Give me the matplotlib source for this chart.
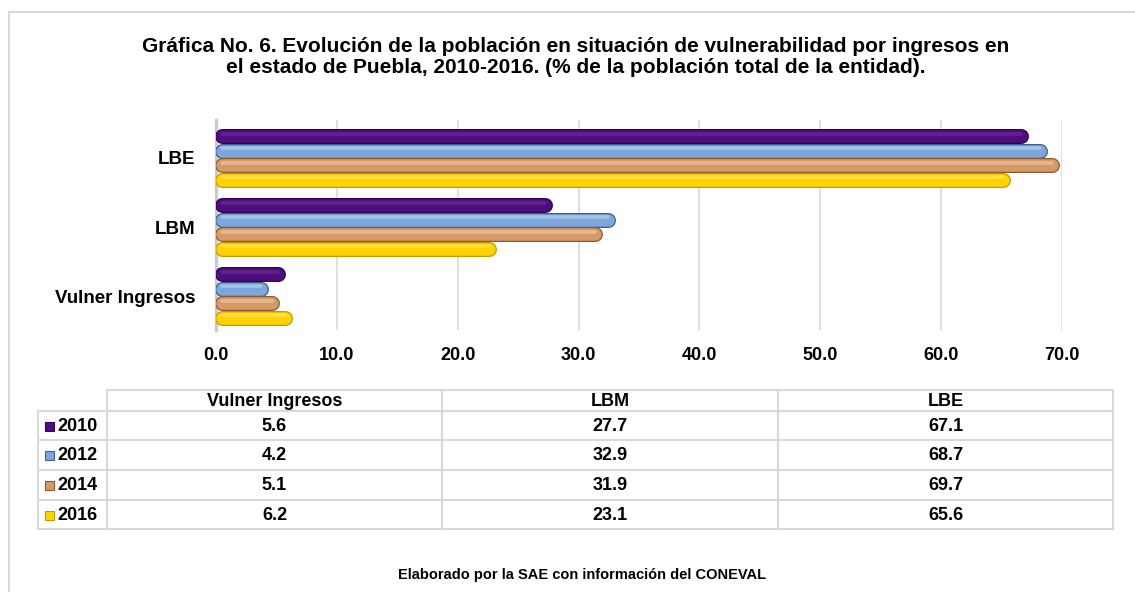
import matplotlib
matplotlib.use("Agg")
import matplotlib.pyplot as plt
import numpy as np

plt.rcParams['font.family'] = ['Liberation Sans', 'DejaVu Sans']

# data
categories = ['Vulner Ingresos', 'LBM', 'LBE']
years = ['2010', '2012', '2014', '2016']
values = {
    '2010': [5.6, 27.7, 67.1],
    '2012': [4.2, 32.9, 68.7],
    '2014': [5.1, 31.9, 69.7],
    '2016': [6.2, 23.1, 65.6],
}
x_ticks = [0, 10, 20, 30, 40, 50, 60, 70]

title = ('Gráfica No. 6. Evolución de la población en situación de vulnerabilidad por ingresos en\n'
         'el estado de Puebla, 2010-2016. (% de la población total de la entidad).')
footer = 'Elaborado por la SAE con información del CONEVAL'

# styles: (main, dark edge, highlight)
colors = {
    '2010': ('#4e0e7d', '#2c0550', '#6a2a9a'),
    '2012': ('#7ea6dc', '#3f5f8a', '#b0ccf0'),
    '2014': ('#d69a68', '#8a5a33', '#edc29a'),
    '2016': ('#ffd200', '#c49a00', '#ffe45c'),
}
offsets = [0.315, 0.105, -0.105, -0.315]
cap = 0.5  # round cap radius in data units

W, H = 1135, 592
fig = plt.figure(figsize=(W / 100, H / 100), dpi=100)

# full-figure overlay for frame, table, texts (pixel coords)
bg = fig.add_axes([0, 0, 1, 1])
bg.set_xlim(0, W)
bg.set_ylim(H, 0)
bg.axis('off')
bg.plot([9, W], [12, 12], color='#d9d9d9', lw=1.5)
bg.plot([9, 9], [12, H], color='#d9d9d9', lw=1.5)

bg.text(576, 57, title, ha='center', va='center', fontsize=15,
        fontweight='bold', linespacing=1.17)
bg.text(582, 575, footer, ha='center', va='center', fontsize=10.5, fontweight='bold')

# chart
ax = fig.add_axes([216 / W, 1 - 330 / H, 846 / W, 210 / H])
ypos = np.arange(len(categories))
for yr, off in zip(years, offsets):
    main, dark, hi = colors[yr]
    yy = ypos + off
    ends = np.array(values[yr]) - cap
    ax.hlines(yy, cap, ends, colors=dark, lw=10.8, capstyle='round', zorder=3)
    ax.hlines(yy, cap, ends, colors=main, lw=9.0, capstyle='round', zorder=4)
    ax.hlines(yy + 0.035, cap, ends, colors=hi, lw=2.6,
              capstyle='round', zorder=5, alpha=0.75)

ax.set_xlim(0, 70)
ax.set_ylim(-0.49, 2.55)
ax.set_xticks(x_ticks)
ax.set_xticklabels([f'{t:.1f}' for t in x_ticks], fontsize=13, fontweight='bold')
ax.set_yticks(ypos)
ax.set_yticklabels(categories, fontsize=13.5, fontweight='bold')
ax.tick_params(axis='x', length=0, pad=12)
ax.tick_params(axis='y', length=0, pad=15)
ax.grid(axis='x', color='#d9d9d9', lw=1.2, zorder=0)
for s in ['top', 'right', 'bottom']:
    ax.spines[s].set_visible(False)
ax.spines['left'].set_color('#cccccc')
ax.spines['left'].set_linewidth(2.5)

# data table
col_edges = [38, 107, 442, 778, 1113]
row_edges = [390, 411, 440, 470, 500, 529]
line_c = '#d9d9d9'
# header row (no top-left cell)
bg.plot([col_edges[1], col_edges[-1]], [row_edges[0]] * 2, color=line_c, lw=1.5)
for y in row_edges[1:]:
    bg.plot([col_edges[0], col_edges[-1]], [y, y], color=line_c, lw=1.5)
bg.plot([col_edges[0]] * 2, [row_edges[1], row_edges[-1]], color=line_c, lw=1.5)
for x in col_edges[1:]:
    bg.plot([x, x], [row_edges[0], row_edges[-1]], color=line_c, lw=1.5)

for j, cat in enumerate(categories):
    cx = (col_edges[j + 1] + col_edges[j + 2]) / 2
    bg.text(cx, (row_edges[0] + row_edges[1]) / 2 + 1, cat, ha='center', va='center',
            fontsize=13, fontweight='bold')
for i, yr in enumerate(years):
    cy = (row_edges[i + 1] + row_edges[i + 2]) / 2 + 1
    main, dark, hi = colors[yr]
    bg.add_patch(plt.Rectangle((45, cy - 5), 9, 9, facecolor=main, edgecolor=dark, lw=0.8))
    bg.text(57, cy, yr, ha='left', va='center', fontsize=13, fontweight='bold')
    for j in range(len(categories)):
        cx = (col_edges[j + 1] + col_edges[j + 2]) / 2
        bg.text(cx, cy, f'{values[yr][j]:.1f}', ha='center', va='center',
                fontsize=13, fontweight='bold')

fig.savefig('out.png', dpi=100, facecolor='white')
